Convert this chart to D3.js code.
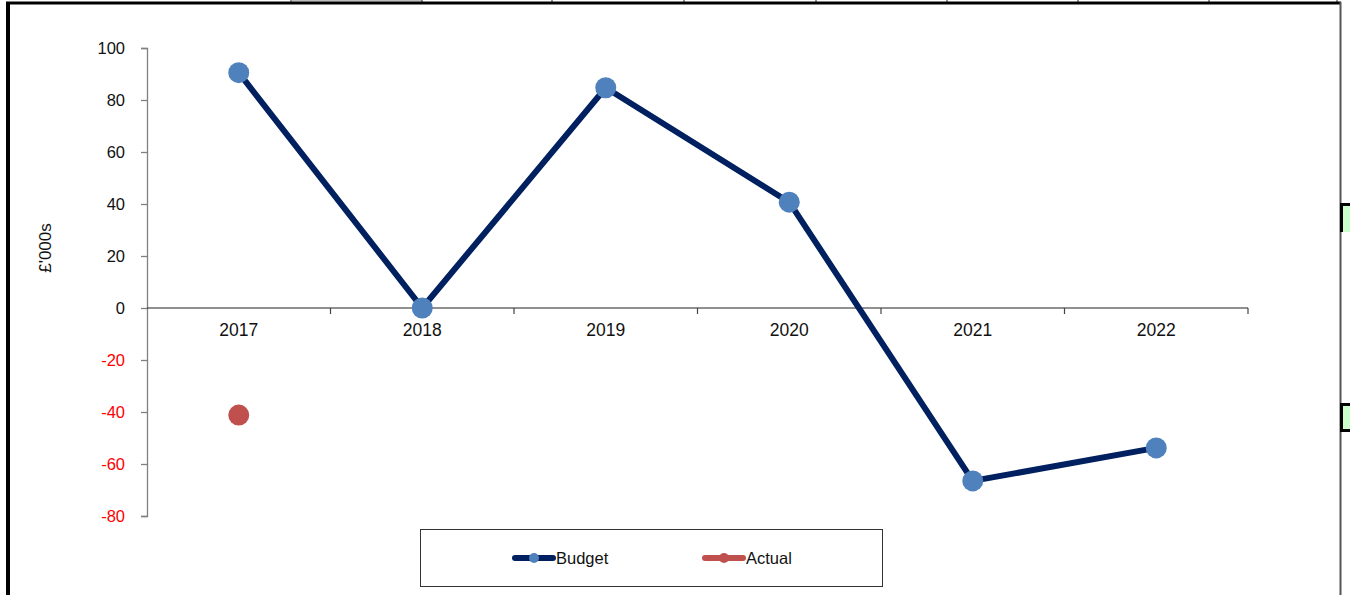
<!DOCTYPE html>
<html>
<head>
<meta charset="utf-8">
<script src="https://cdnjs.cloudflare.com/ajax/libs/d3/7.8.5/d3.min.js"></script>
<style>
  html, body { margin: 0; padding: 0; background: #fff; }
  svg { display: block; font-family: "Liberation Sans", Arial, sans-serif; }
</style>
</head>
<body>
<svg id="chart" width="1350" height="595"></svg>
<script>
// Yearly figures in £'000s
const years = ["2017", "2018", "2019", "2020", "2021", "2022"];
const budget = [90.5, 0, 84.7, 40.7, -66.5, -53.8];
const actual = [-41.2, null, null, null, null, null];
const yTicks = [100, 80, 60, 40, 20, 0, -20, -40, -60, -80];
const seriesNames = ["Budget", "Actual"];
const gridCols = [291, 422, 552, 684, 816, 947, 1078, 1209, 1337];

const svg = d3.select("#chart");

// Sheet chrome around the chart object
svg.append("rect").attr("x", 292).attr("y", 0).attr("width", 130).attr("height", 1.5).attr("fill", "#bdbdbd");
svg.selectAll("line.cell").data(gridCols).join("line")
  .attr("class", "cell")
  .attr("x1", d => d).attr("x2", d => d).attr("y1", 0).attr("y2", 2)
  .attr("stroke", "#222").attr("stroke-width", 1);
svg.append("line").attr("x1", 6).attr("x2", 1341).attr("y1", 3).attr("y2", 3)
  .attr("stroke", "#000").attr("stroke-width", 3);
svg.append("line").attr("x1", 8).attr("x2", 8).attr("y1", 2).attr("y2", 595)
  .attr("stroke", "#000").attr("stroke-width", 4);
svg.append("line").attr("x1", 1340.5).attr("x2", 1340.5).attr("y1", 2).attr("y2", 595)
  .attr("stroke", "#555").attr("stroke-width", 2);

// Neighbouring highlighted cells on the right
[[203, 232], [403, 432]].forEach(([t, b]) => {
  svg.append("rect").attr("x", 1343).attr("y", t + 3).attr("width", 7).attr("height", b - t - 3).attr("fill", "#ccffcc");
  svg.append("rect").attr("x", 1340).attr("y", t).attr("width", 10).attr("height", 3).attr("fill", "#000");
  svg.append("rect").attr("x", 1340).attr("y", t).attr("width", 3).attr("height", b - t).attr("fill", "#000");
});
svg.append("rect").attr("x", 1340).attr("y", 429).attr("width", 10).attr("height", 3).attr("fill", "#000");

// Scales
const x = d3.scaleBand().domain(years).range([147, 1248]);
const y = d3.scaleLinear().domain([-80, 100]).range([516, 48]);

// Y axis (plain hyphen for negatives)
const yAxis = svg.append("g").attr("transform", "translate(147,0)")
  .call(d3.axisLeft(y).tickValues(yTicks).tickSize(6).tickPadding(16).tickFormat(d => String(d)));
yAxis.select(".domain").attr("stroke", "#808080").attr("stroke-width", 1.3);
yAxis.selectAll(".tick line").attr("stroke", "#808080").attr("stroke-width", 1.3);
yAxis.selectAll(".tick text")
  .attr("font-size", 16.5)
  .attr("font-family", "Liberation Sans, Arial, sans-serif")
  .attr("fill", d => d < 0 ? "#ff0000" : "#111");

// X axis along zero, ticks at category boundaries
const xAxisG = svg.append("g").attr("transform", `translate(0,${y(0)})`);
xAxisG.append("line").attr("x1", 147).attr("x2", 1248).attr("y1", 0).attr("y2", 0)
  .attr("stroke", "#222").attr("stroke-width", 1.2);
const bounds = years.map(d => x(d) + x.bandwidth());
xAxisG.selectAll("line.tk").data(bounds).join("line").attr("class", "tk")
  .attr("x1", d => d).attr("x2", d => d).attr("y1", 0).attr("y2", 6)
  .attr("stroke", "#444").attr("stroke-width", 1.2);
xAxisG.selectAll("text").data(years).join("text")
  .attr("x", d => x(d) + x.bandwidth() / 2).attr("y", 28)
  .attr("text-anchor", "middle").attr("font-size", 17.5).attr("fill", "#111")
  .text(d => d);

// Axis title
svg.append("text").attr("transform", "translate(51,248) rotate(-90)")
  .attr("text-anchor", "middle").attr("font-size", 17).attr("fill", "#111")
  .text("£'000s");

const cx = d => x(d) + x.bandwidth() / 2;

// Budget line
const line = d3.line().defined(d => d[1] != null).x(d => cx(d[0])).y(d => y(d[1]));
svg.append("path").datum(years.map((d, i) => [d, budget[i]]))
  .attr("d", line).attr("fill", "none").attr("stroke", "#002060")
  .attr("stroke-width", 6).attr("stroke-linejoin", "round");
svg.selectAll("circle.b").data(years.map((d, i) => [d, budget[i]])).join("circle")
  .attr("class", "b").attr("cx", d => cx(d[0])).attr("cy", d => y(d[1]))
  .attr("r", 10.5).attr("fill", "#4f81bd");

// Actual series
svg.append("path").datum(years.map((d, i) => [d, actual[i]]))
  .attr("d", line).attr("fill", "none").attr("stroke", "#c0504d").attr("stroke-width", 6);
svg.selectAll("circle.a").data(years.map((d, i) => [d, actual[i]]).filter(d => d[1] != null)).join("circle")
  .attr("class", "a").attr("cx", d => cx(d[0])).attr("cy", d => y(d[1]))
  .attr("r", 10.5).attr("fill", "#c0504d");

// Legend
svg.append("rect").attr("x", 420.5).attr("y", 529.5).attr("width", 462).attr("height", 57)
  .attr("fill", "#fff").attr("stroke", "#333").attr("stroke-width", 1);
const legendColors = [["#002060", "#4f81bd"], ["#c0504d", "#c0504d"]];
const legendX = [513, 703];
seriesNames.forEach((name, i) => {
  const g = svg.append("g").attr("transform", `translate(${legendX[i]},558)`);
  g.append("line").attr("x1", 2).attr("x2", 40).attr("y1", 0).attr("y2", 0)
    .attr("stroke", legendColors[i][0]).attr("stroke-width", 6).attr("stroke-linecap", "round");
  g.append("circle").attr("cx", 21).attr("cy", 0).attr("r", 5).attr("fill", legendColors[i][1]);
  g.append("text").attr("x", 43).attr("y", 6).attr("font-size", 16.5).attr("fill", "#111").text(name);
});
</script>
</body>
</html>
